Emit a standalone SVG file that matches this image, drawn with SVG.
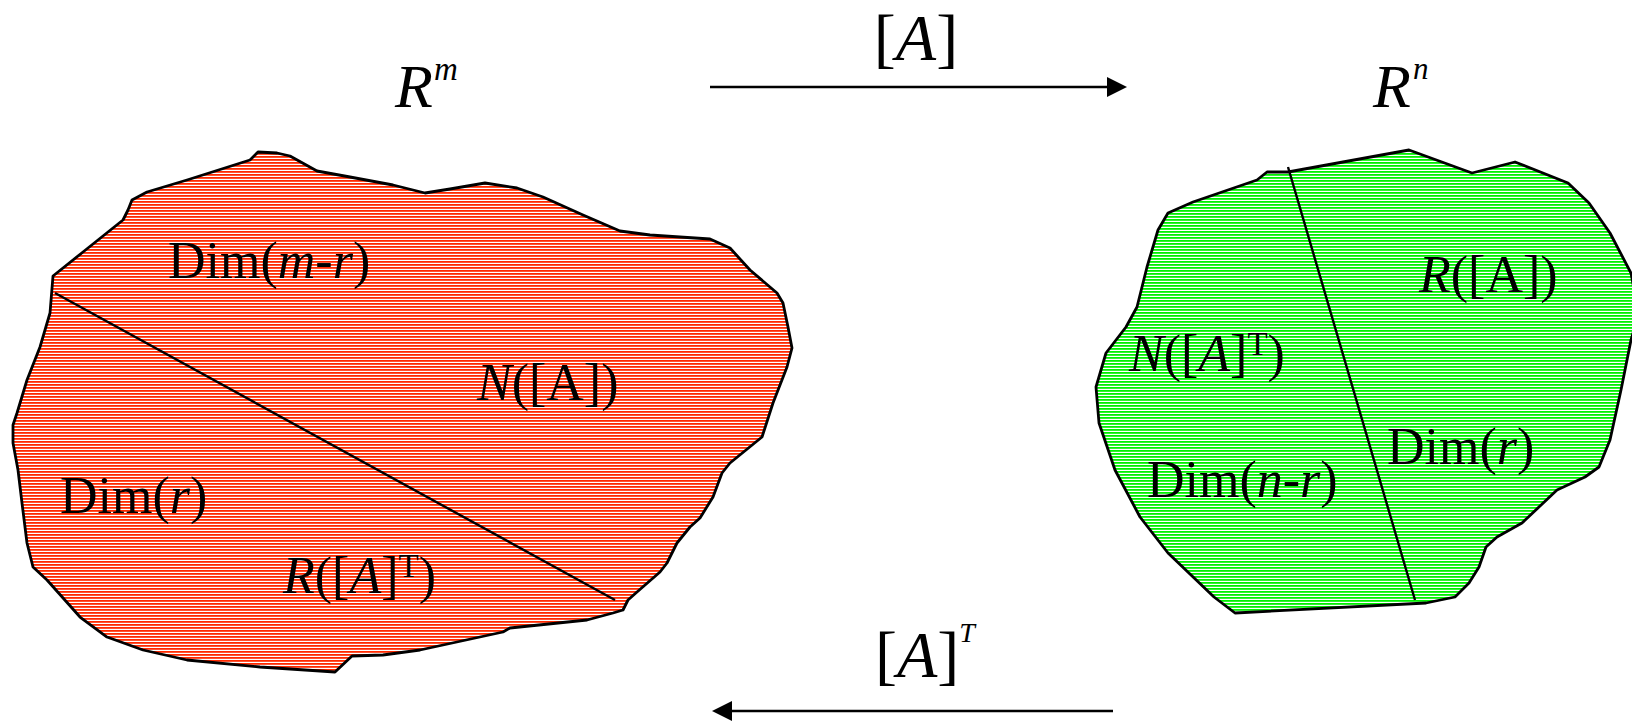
<svg xmlns="http://www.w3.org/2000/svg" width="1632" height="721" viewBox="0 0 1632 721">
<style>
.lbl{font-family:"Liberation Serif","Times New Roman",serif;fill:#000;}
.blob{stroke:#000;stroke-width:2.8;stroke-linejoin:round;}
.div{stroke:#000;stroke-width:2.4;fill:none;}
.arr{stroke:#000;stroke-width:2.5;fill:none;}
.it{font-style:italic;}
</style>
<defs>
<pattern id="hatchRed" patternUnits="userSpaceOnUse" x="0" y="0" width="8" height="3">
<rect width="8" height="3" fill="#fff"/>
<rect width="8" height="1.8" fill="#ff2a00"/>
</pattern>
<pattern id="hatchGreen" patternUnits="userSpaceOnUse" x="0" y="0" width="8" height="3">
<rect width="8" height="3" fill="#fff"/>
<rect width="8" height="1.8" fill="#00f000"/>
</pattern>
<marker id="head" markerUnits="userSpaceOnUse" markerWidth="20" markerHeight="20" viewBox="0 0 20 20" refX="0" refY="10" orient="auto">
<path d="M0,0 L20,10 L0,20 z" fill="#000"/>
</marker>
</defs>
<rect width="1632" height="721" fill="#fff"/>

<g id="space-Rm">
<path class="blob" fill="url(#hatchRed)" d="M53,276 L83,252 L123,220 L128,210 L132,200 L147,192 L187,180 L250,160 L258,152 L277,153 L290,156 L317,171 L350,177 L393,185 L425,193 L450,189 L485,183 L517,188 L543,197 L583,215 L620,231 L650,235 L710,239 L730,248 L750,270 L777,293 L783,303 L788,327 L792,348 L787,367 L773,403 L762,437 L730,463 L722,473 L713,497 L700,518 L690,527 L677,543 L667,563 L660,572 L637,592 L628,600 L623,610 L613,613 L587,620 L510,628 L503,632 L420,650 L383,655 L352,656 L335,672 L260,667 L187,660 L143,650 L107,637 L80,617 L47,580 L33,567 L27,543 L22,503 L18,470 L13,443 L13,425 L17,413 L27,380 L40,347 L50,313 Z"/>
<line class="div" x1="55" y1="293" x2="615" y2="600"/>
<text class="lbl" font-size="52" x="168" y="278">Dim(<tspan class="it">m</tspan>-<tspan class="it">r</tspan>)</text>
<text class="lbl" font-size="52" x="477" y="400"><tspan class="it">N</tspan>([A])</text>
<text class="lbl" font-size="52" x="60" y="513">Dim(<tspan class="it">r</tspan>)</text>
<text class="lbl" font-size="52" x="283" y="593"><tspan class="it">R</tspan>([<tspan class="it">A</tspan>]<tspan font-size="33" dy="-16">T</tspan><tspan dy="16">)</tspan></text>
<text class="lbl it" font-size="62" x="395" y="107">R<tspan font-size="33" x="434" y="80">m</tspan></text>
</g>

<g id="space-Rn">
<path class="blob" fill="url(#hatchGreen)" d="M1168,213 L1193,202 L1257,180 L1267,172 L1288,172 L1409,150 L1472,173 L1515,162 L1568,183 L1589,203 L1610,233 L1631,273 L1636,300 L1634,330 L1631,340 L1621,390 L1610,440 L1599,467 L1585,477 L1557,490 L1522,523 L1497,537 L1486,547 L1479,567 L1469,583 L1455,597 L1426,603 L1235,613 L1214,597 L1168,553 L1140,517 L1115,470 L1099,423 L1096,387 L1106,353 L1126,327 L1137,307 L1147,267 L1158,230 Z"/>
<line class="div" x1="1288" y1="167" x2="1415" y2="600"/>
<text class="lbl" font-size="52" x="1419" y="292"><tspan class="it">R</tspan>([A])</text>
<text class="lbl" font-size="52" x="1129" y="371"><tspan class="it">N</tspan>([<tspan class="it">A</tspan>]<tspan font-size="33" dy="-16">T</tspan><tspan dy="16">)</tspan></text>
<text class="lbl" font-size="52" x="1387" y="464">Dim(<tspan class="it">r</tspan>)</text>
<text class="lbl" font-size="52" x="1147" y="497">Dim(<tspan class="it">n</tspan>-<tspan class="it">r</tspan>)</text>
<text class="lbl it" font-size="62" x="1373" y="107">R<tspan font-size="31" x="1413" y="79">n</tspan></text>
</g>

<g id="connectors">
<line class="arr" x1="710" y1="87" x2="1107" y2="87" marker-end="url(#head)"/>
<text class="lbl" font-size="66" x="916" y="60" text-anchor="middle">[<tspan class="it">A</tspan>]</text>
<line class="arr" x1="1113" y1="711" x2="732" y2="711" marker-end="url(#head)"/>
<text class="lbl" font-size="66" x="875" y="677">[<tspan class="it">A</tspan>]<tspan class="it" font-size="28" dy="-35">T</tspan></text>
</g>
</svg>
